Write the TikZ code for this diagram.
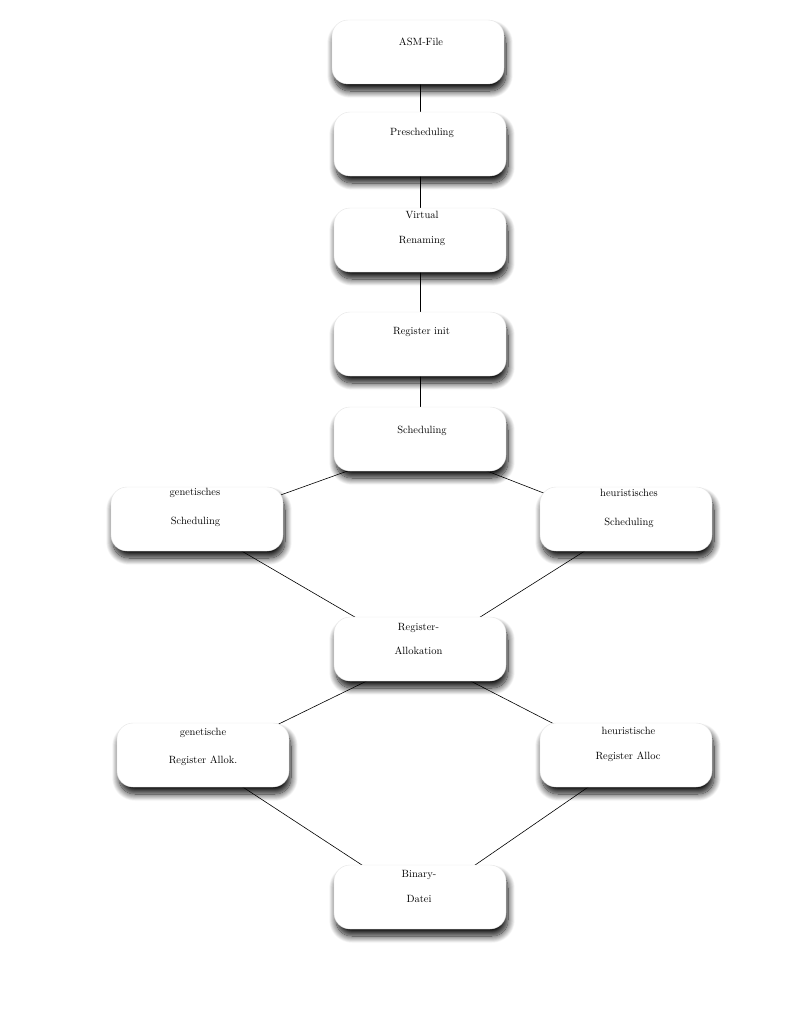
\documentclass[tikz,border=0pt]{standalone}
\usetikzlibrary{shadows.blur,backgrounds}
\begin{document}
\begin{tikzpicture}[x=1pt,y=-1pt,
  box/.style={draw=black!10,line width=0.4pt,fill=white,rounded corners=16pt,
    minimum width=172pt,minimum height=64pt,inner sep=0pt,
    blur shadow={shadow xshift=2pt,shadow yshift=-7pt,shadow blur radius=7pt,shadow blur steps=14,shadow opacity=95}},
  lbl/.style={inner sep=0pt,font=\fontsize{10.5}{12}\selectfont,text=black},
  edge/.style={draw=black,line width=0.6pt}]
\useasboundingbox (0,0) rectangle (796,1014);
% boxes
\node[box] (asm) at (418,52) {};
\node[box] (pre) at (420,144) {};
\node[box] (vr) at (420,240) {};
\node[box] (ri) at (420,344) {};
\node[box] (sch) at (420,439) {};
\node[box] (gs) at (197,519) {};
\node[box] (hs) at (626,519) {};
\node[box] (ra) at (420,649) {};
\node[box] (gra) at (203,755) {};
\node[box] (hra) at (626,755) {};
\node[box] (bin) at (420,897) {};
% labels
\node[lbl] (tasm) at (421,42) {ASM-File};
\node[lbl] (tpre) at (422,133) {Prescheduling};
\node[lbl] (tvr1) at (422,215) {Virtual};
\node[lbl] (tvr2) at (422,241) {Renaming};
\node[lbl] (tri) at (421.5,332) {Register init};
\node[lbl] (tsch) at (422,431) {Scheduling};
\node[lbl] (tgs1) at (195,493) {genetisches};
\node[lbl] (tgs2) at (195.5,522) {Scheduling};
\node[lbl] (ths1) at (629,493) {heuristisches};
\node[lbl] (ths2) at (629,523) {Scheduling};
\node[lbl] (tra1) at (418.5,628) {Register-};
\node[lbl] (tra2) at (418.5,651) {Allokation};
\node[lbl] (tgra1) at (203,733) {genetische};
\node[lbl] (tgra2) at (203,761) {Register Allok.};
\node[lbl] (thra1) at (628.5,731) {heuristische};
\node[lbl] (thra2) at (628,757) {Register Alloc};
\node[lbl] (tbin1) at (419,875) {Binary-};
\node[lbl] (tbin2) at (419,899) {Datei};
% connectors
\begin{scope}[on background layer,every path/.style={edge}]
\coordinate (asmc) at (420,52);
\draw (asmc) -- (pre.center);
\draw (pre.center) -- (vr.center);
\draw (vr.center) -- (ri.center);
\draw (ri.center) -- (sch.center);
\draw ([yshift=-6pt]sch.center) -- ([yshift=-6pt]gs.center);
\draw ([yshift=-6pt]sch.center) -- ([yshift=-6pt]hs.center);
\draw ([yshift=-6pt]gs.center) -- ([yshift=-6pt]ra.center);
\draw ([yshift=-6pt]hs.center) -- ([yshift=-6pt]ra.center);
\draw ([yshift=-6pt]ra.center) -- ([yshift=-6pt]gra.center);
\draw ([yshift=-6pt]ra.center) -- ([yshift=-6pt]hra.center);
\draw ([yshift=-6pt]gra.center) -- ([yshift=-6pt]bin.center);
\draw ([yshift=-6pt]hra.center) -- ([yshift=-6pt]bin.center);
\end{scope}
\end{tikzpicture}
\end{document}
